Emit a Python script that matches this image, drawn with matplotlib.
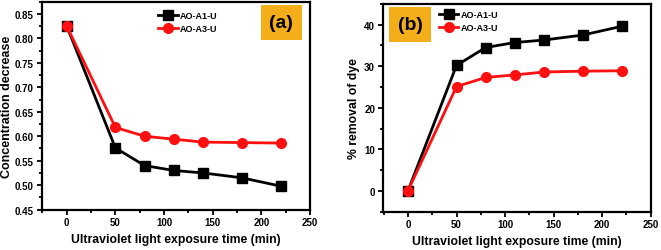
import matplotlib
matplotlib.use("Agg")
import matplotlib.pyplot as plt
from matplotlib.ticker import MultipleLocator, FuncFormatter

plt.rcParams['font.family'] = ['Liberation Sans', 'DejaVu Sans']
plt.rcParams['font.weight'] = 'bold'

time = [0, 50, 80, 110, 140, 180, 220]
conc_a1 = [0.825, 0.576, 0.540, 0.530, 0.525, 0.515, 0.498]
conc_a3 = [0.825, 0.618, 0.600, 0.594, 0.588, 0.587, 0.586]
rem_a1 = [0, 30.2, 34.5, 35.7, 36.3, 37.5, 39.6]
rem_a3 = [0, 25.1, 27.3, 27.9, 28.6, 28.8, 28.9]
labels = ['AO-A1-U', 'AO-A3-U']

fig = plt.figure(figsize=(6.61, 2.51), dpi=100)
axA = fig.add_axes([0.0628, 0.161, 0.406, 0.828])
axB = fig.add_axes([0.579, 0.153, 0.4055, 0.8275])

def style(ax):
    for s in ax.spines.values():
        s.set_linewidth(1.6)
    ax.tick_params(which='both', direction='out', top=False, right=False,
                   labelsize=7, width=1.3, pad=2)
    ax.tick_params(which='major', length=3.5)
    ax.tick_params(which='minor', length=2)
    ax.xaxis.set_major_locator(MultipleLocator(50))
    ax.xaxis.set_minor_locator(MultipleLocator(25))
    ax.set_xlim(-26, 250)
    ax.set_xlabel('Ultraviolet light exposure time (min)', fontsize=8.8, fontweight='bold', labelpad=4)

kw1 = dict(color='black', marker='s', markersize=6.5, linewidth=2)
kw2 = dict(color='#ff1010', marker='o', markersize=7, linewidth=2)
legkw = dict(loc='upper left', frameon=False, handlelength=2.2, handletextpad=0.2,
             labelspacing=0.45, borderaxespad=0.3, prop={'weight': 'bold', 'size': 6.5})

axA.plot(time, conc_a1, label=labels[0], **kw1)
axA.plot(time, conc_a3, label=labels[1], **kw2)
style(axA)
axA.set_ylim(0.45, 0.875)
axA.yaxis.set_major_locator(MultipleLocator(0.05))
axA.yaxis.set_minor_locator(MultipleLocator(0.025))
axA.yaxis.set_major_formatter(FuncFormatter(lambda v, p: f'{v:.2f}'))
axA.set_ylabel('Concentration decrease', fontsize=9, fontweight='bold', labelpad=1)
axA.legend(bbox_to_anchor=(0.41, 0.985), **legkw)
axA.text(0.894, 0.90, '(a)', transform=axA.transAxes, fontsize=14, fontweight='bold',
         ha='center', va='center',
         bbox=dict(boxstyle='square,pad=0.45', facecolor='#f4ae1a', edgecolor='none'))

axB.plot(time, rem_a1, label=labels[0], **kw1)
axB.plot(time, rem_a3, label=labels[1], **kw2)
style(axB)
axB.set_ylim(-5, 45)
axB.yaxis.set_major_locator(MultipleLocator(10))
axB.yaxis.set_minor_locator(MultipleLocator(5))
axB.set_ylabel('% removal of dye', fontsize=8.8, fontweight='bold', labelpad=3)
axB.legend(bbox_to_anchor=(0.185, 1.0), **legkw)
axB.text(0.102, 0.90, '(b)', transform=axB.transAxes, fontsize=14, fontweight='bold',
         ha='center', va='center',
         bbox=dict(boxstyle='square,pad=0.45', facecolor='#f4ae1a', edgecolor='none'))

fig.savefig('out.png', dpi=100)
